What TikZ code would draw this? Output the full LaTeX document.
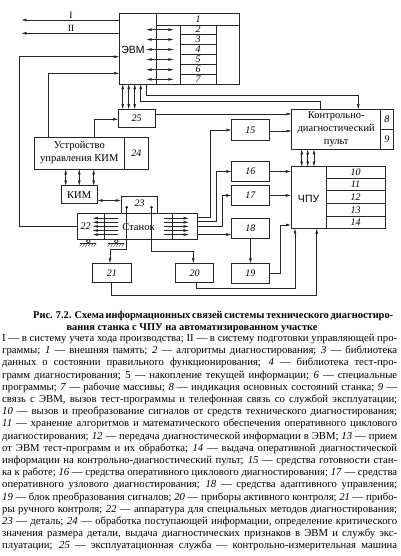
\documentclass[tikz,border=0pt]{standalone}
\usepackage{fontspec}
\setmainfont{Liberation Serif}
\newfontfamily\sansf{Liberation Sans}
\usetikzlibrary{arrows.meta}
\newcommand\jl[1]{\hbox to 395pt{#1}}
\tikzset{
  ln/.style={line width=0.65pt, draw=black!85},
  arr/.style={ln, -{Stealth[length=5pt,width=2.6pt,inset=0.6pt]}},
  darr/.style={ln, {Stealth[length=5pt,width=2.6pt,inset=0.6pt]}-{Stealth[length=5pt,width=2.6pt,inset=0.6pt]}},
  box/.style={ln, draw, rectangle, inner sep=0pt},
  num/.style={font=\fontsize{10}{12}\selectfont\itshape, inner sep=0pt},
  lbl/.style={font=\fontsize{10.5}{13}\selectfont, inner sep=0pt, align=center},
  slbl/.style={font=\fontsize{10.5}{13}\sansf, inner sep=0pt},
}
\begin{document}
\begin{tikzpicture}[x=1pt,y=-1pt]
\useasboundingbox[fill=white] (0,0) rectangle (400,556);

% ---------- ЭВМ ----------
\node[box, minimum width=119.7pt, minimum height=70.7pt] (evm) at (179.15,48.65) {};
\draw[ln] (156.7,13.3) -- (156.7,84);
\draw[ln] (156.7,25) -- (239,25);
\draw[ln] (180,25) -- (180,84);
\draw[ln] (216,25) -- (216,84);
\foreach \yy in {34.3,44.7,54.3,64.7,74.7} \draw[ln] (180,\yy) -- (216,\yy);
\node[slbl] (evmt) at (133,50) {ЭВМ};
\node[num] (r1) at (198,19.3) {1};
\node[num] (r2) at (198,29.65) {2};
\node[num] (r3) at (198,39.5) {3};
\node[num] (r4) at (198,49.5) {4};
\node[num] (r5) at (198,59.5) {5};
\node[num] (r6) at (198,69.7) {6};
\node[num] (r7) at (198,79.35) {7};
\foreach \yy in {29.65,39.5,49.5,59.5,69.7,79.35} \draw[darr] (146.7,\yy) -- (173.3,\yy);

% outputs I, II
\coordinate (outI) at (21.7,20);
\coordinate (outII) at (21.7,33.3);
\draw[arr] (evm.west |- outI) -- (outI);
\draw[arr] (evm.west |- outII) -- (outII);
\node[font=\fontsize{9.5}{11}\selectfont, inner sep=0pt] (lI) at (71,15.3) {I};
\node[font=\fontsize{9.5}{11}\selectfont, inner sep=0pt] (lII) at (71,28.5) {II};

% ---------- 25 ----------
\node[box, minimum width=36.7pt, minimum height=18pt] (n25) at (136.65,118.3) {};
\node[num] (t25) at (136.65,118.3) {25};

% ---------- Устройство управления КИМ ----------
\node[box, minimum width=114pt, minimum height=31.6pt] (ustr) at (91.3,153.5) {};
\draw[ln] (124.3,137.7) -- (124.3,169.3);
\node[lbl] (ustrt) at (79.3,152.5) {Устройство\\управления КИМ};
\node[num] (t24) at (136.3,153.5) {24};

% ---------- КИМ ----------
\node[box, minimum width=36.3pt, minimum height=17.6pt] (kim) at (79.15,194.5) {};
\node[lbl] (kimt) at (79.15,194.8) {КИМ};

% ---------- 23 ----------
\node[box, minimum width=36pt, minimum height=16.6pt] (n23) at (139,205) {};
\node[num] (t23) at (139.5,203.2) {23};

% ---------- Станок ----------
\node[box, minimum width=120.5pt, minimum height=26pt] (stanok) at (137.55,226.3) {};
\draw[ln] (104.5,213.3) -- (104.5,239.3);
\draw[ln] (172.3,213.3) -- (172.3,239.3);
\node[lbl] (stanokt) at (138.5,227) {Станок};
\node[num] (t22) at (85.5,226.5) {22};
\foreach \yy in {218.2,222.3,226.4,230.5,234.6} {
  \draw[arr] (117.5,\yy) -- (93,\yy);
  \draw[arr] (164,\yy) -- (188.5,\yy);
}
% supports
\foreach \cx in {88.3,116.3} {
  \draw[ln] (\cx,241.2) circle (1.9pt);
  \draw[ln] (\cx-8,243.1) -- (\cx+8,243.1);
  \foreach \k in {0,...,5} \draw[line width=0.4pt, black!85] (\cx-6+\k*2.8,243.1) -- ++(-2.6,3.4);
}

% ---------- blocks 15-21 ----------
\node[box, minimum width=37.8pt, minimum height=20.3pt] (n15) at (250.4,129.85) {};
\node[num] (t15) at (250.4,129.85) {15};
\node[box, minimum width=37.8pt, minimum height=20.4pt] (n16) at (250.4,171.5) {};
\node[num] (t16) at (250.4,171.5) {16};
\node[box, minimum width=37.8pt, minimum height=20.2pt] (n17) at (250.4,195.4) {};
\node[num] (t17) at (250.4,195.4) {17};
\node[box, minimum width=37.8pt, minimum height=20pt] (n18) at (250.4,228.5) {};
\node[num] (t18) at (250.4,228.5) {18};
\node[box, minimum width=37.8pt, minimum height=19.7pt] (n19) at (250.4,273.2) {};
\node[num] (t19) at (250.4,273.2) {19};
\node[box, minimum width=37.6pt, minimum height=19.4pt] (n20) at (194.5,273) {};
\node[num] (t20) at (194.5,273) {20};
\node[box, minimum width=38.3pt, minimum height=19.4pt] (n21) at (111.85,273) {};
\node[num] (t21) at (111.85,273) {21};

% ---------- Пульт ----------
\node[box, minimum width=101.3pt, minimum height=40pt] (pult) at (342.35,129.3) {};
\draw[ln] (380.7,109.3) -- (380.7,149.3);
\draw[ln] (380.7,129.3) -- (393,129.3);
\node[lbl] (pultt) at (336.2,129.5) {Контрольно-\\диагностический\\пульт};
\node[num] (t8) at (386.8,119.3) {8};
\node[num] (t9) at (386.8,139.3) {9};

% ---------- ЧПУ ----------
\node[box, minimum width=94pt, minimum height=61.8pt] (chpu) at (338,197.6) {};
\draw[ln] (326.3,166.7) -- (326.3,228.5);
\foreach \yy in {178.7,190.5,203.5,216.5} \draw[ln] (326.3,\yy) -- (385,\yy);
\node[slbl] (chput) at (308.6,198.5) {ЧПУ};
\node[num] (t10) at (355.6,172.7) {10};
\node[num] (t11) at (355.6,184.6) {11};
\node[num] (t12) at (355.6,197) {12};
\node[num] (t13) at (355.6,210) {13};
\node[num] (t14) at (355.6,222.5) {14};

% ---------- connectors ----------
\draw[arr] (stanok.west) -- (19.3,226.3) -- (19.3,56.7) -- (evm.west |- 0,56.7);
\draw[arr] (ustr.north -| 48.3,0) -- (48.3,73.3) -- (evm.west |- 0,73.3);
\foreach \xx in {122.7,128.7,134.7} \draw[darr] (evm.south -| \xx,0) -- (n25.north -| \xx,0);
\draw[arr] (pult.north -| 320,0) -- (320,101.2) -- (140.7,101.2) -- (evm.south -| 140.7,0);
\draw[arr] (evm.south -| 146.7,0) -- (146.7,95.7) -- (358.3,95.7) -- (pult.north -| 358.3,0);
\draw[arr] (n25.east |- 0,114) -- (pult.west |- 0,114);
\draw[arr] (ustr.north -| 94,0) -- (94,119.3) -- (n25.west |- 0,119.3);
\foreach \xx in {65.7,79.3,93.7} \draw[darr] (ustr.south -| \xx,0) -- (kim.north -| \xx,0);
\draw[darr] (kim.east |- 0,200.5) -- (n23.west |- 0,200.5);

\fill[black!85] (126.7,207.3) circle (1.5pt) (151.5,207.3) circle (1.5pt);
\draw[arr] (126.7,207.3) -- (126.7,249) -- (110,249) -- (n21.north -| 110,0);
\draw[arr] (151.5,207.3) -- (151.5,251) -- (193.3,251) -- (n20.north -| 193.3,0);

\draw[arr] (stanok.east |- 0,217.5) -- (210,217.5) -- (210,130) -- (n15.west |- 0,130);
\draw[arr] (stanok.east |- 0,221.7) -- (216.7,221.7) -- (216.7,171.5) -- (n16.west);
\draw[arr] (stanok.east |- 0,226) -- (222,226) -- (222,195.4) -- (n17.west);
\draw[arr] (stanok.east |- 0,234.5) -- (n18.west |- 0,234.5);

\draw[arr] (n15.east |- 0,131) -- (pult.west |- 0,131);
\draw[arr] (n16.east) -- (chpu.west |- n16.east);
\draw[arr] (n17.east) -- (chpu.west |- n17.east);
\draw[arr] (n18.south) -- (n19.north);
\draw[arr] (n19.east) -- (280,273.2) -- (280,225) -- (chpu.west |- 0,225);
\draw[arr] (n20.south -| 196,0) -- (196,288.5) -- (295,288.5) -- (chpu.south -| 295,0);
\draw[arr] (n21.south -| 111,0) -- (111,295) -- (316.7,295) -- (chpu.south -| 316.7,0);
\foreach \xx in {301.7,307.7,314} \draw[darr] (pult.south -| \xx,0) -- (chpu.north -| \xx,0);

% ---------- caption ----------
\node[anchor=base west, inner sep=0pt, font=\fontsize{10.4}{12}\selectfont\bfseries] (cap1) at (33,318.5)
  {\makebox[352pt][s]{Рис. 7.2. Схема информационных связей системы технического диагностиро-}};
\node[anchor=base, inner sep=0pt, font=\fontsize{10.4}{12}\selectfont\bfseries] (cap2) at (192,330)
  {вания станка с ЧПУ на автоматизированном участке};

% ---------- legend ----------
\node[anchor=base west, inner sep=0pt] (legend) at (2,341.5) {\parbox[t]{395pt}{\fontsize{10.7}{12.2}\selectfont
\jl{I — в систему учета хода производства; II — в систему подготовки управляющей про-}
\jl{граммы; \textit{1} — внешняя память; \textit{2} — алгоритмы диагностирования; \textit{3} — библиотека}
\jl{данных о состоянии правильного функционирования; \textit{4} — библиотека тест-про-}
\jl{грамм диагностирования; 5 — накопление текущей информации; \textit{6} — специальные}
\jl{программы; \textit{7} — рабочие массивы; \textit{8} — индикация основных состояний станка; \textit{9} —}
\jl{связь с ЭВМ, вызов тест-программы и телефонная связь со службой эксплуатации;}
\jl{\textit{10} — вызов и преобразование сигналов от средств технического диагностирования;}
\jl{\textit{11} — хранение алгоритмов и математического обеспечения оперативного циклового}
\jl{диагностирования; \textit{12} — передача диагностической информации в ЭВМ; \textit{13} — прием}
\jl{от ЭВМ тест-программ и их обработка; \textit{14} — выдача оперативной диагностической}
\jl{информации на контрольно-диагностический пульт; \textit{15} — средства готовности стан-}
\jl{ка к работе; \textit{16} — средства оперативного циклового диагностирования; \textit{17} — средства}
\jl{оперативного узлового диагностирования; \textit{18} — средства адаптивного управления;}
\jl{\textit{19} — блок преобразования сигналов; \textit{20} — приборы активного контроля; \textit{21} — прибо-}
\jl{ры ручного контроля; \textit{22} — аппаратура для специальных методов диагностирования;}
\jl{\textit{23} — деталь; \textit{24} — обработка поступающей информации, определение критического}
\jl{значения размера детали, выдача диагностических признаков в ЭВМ и службу экс-}
\jl{плуатации; \textit{25} — эксплуатационная служба — контрольно-измерительная машина}}};
\end{tikzpicture}
\end{document}
